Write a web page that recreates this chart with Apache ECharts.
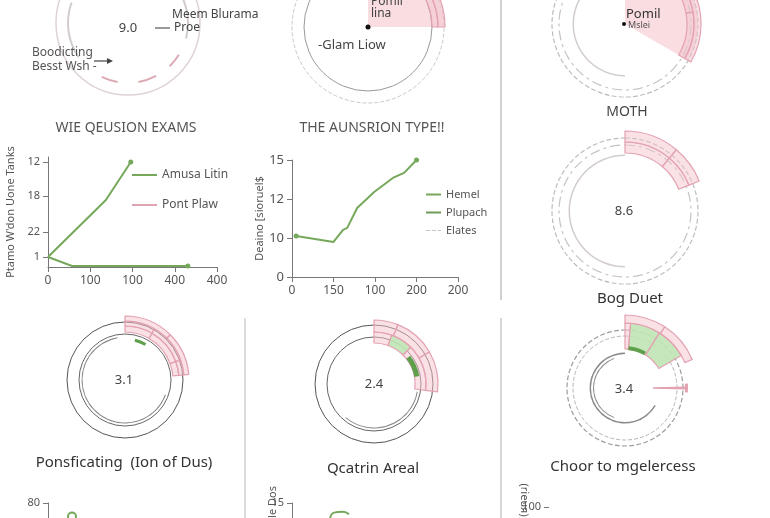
<!DOCTYPE html>
<html><head><meta charset="utf-8">
<script src="https://cdn.jsdelivr.net/npm/echarts@6/dist/echarts.min.js"></script>
<style>html,body{margin:0;padding:0;background:#fff}#c{width:770px;height:518px}</style>
</head><body><div id="c"></div><script>
// ---------- data: line chart A ----------
const xLabelsA = ['0','100','100','400','400'];
const yTickValsA = [10,35,71,105];
const yTickTextA = ['1','22','18','12'];
const amusaLitin = [[0,10],[1.37,67],[1.96,105]];
const pontPlaw = [[0,10],[0.57,1],[3.31,1]];
// ---------- data: line chart B ----------
const xLabelsB = ['0','150','100','200','200'];
const yLabelsB = ['0','10','12','15'];
const hemel = [[0.1,1.05],[1.0,0.9],[1.23,1.21],[1.33,1.26],[1.57,1.77],[1.98,2.18],[2.43,2.54],[2.7,2.67],[3.0,3.0]];
// ---------- data: partial bottom charts ----------
const bottomA = [[0.8,62]];
const bottomB = [[1.25,10.5],[1.4,12.6],[1.7,12.8],[1.9,12.2]];
// ---------- data: ring segments (degrees clockwise from top) ----------
const ringAInner = [50,55,17,14,16,18,20,16,29,55];      const ringAInnerK = 'tgtptptptg';
const sectorB = [90];                                     const sectorBK = 'f';
const bandBIn = [30,30,30];                               const bandBOut = [45,45];
const arcC = [180,150];                                   const arcCK = 'tg';
const sectorC = [120];
const bandCIn = [40,40,40];                               const bandCOut = [60,60];
const arcD = [180,180];
const bandDIn = [40,28];                                  const bandDOut = [40,28];
const arcE = [110,240];                                   const arcEK = 'tG';
const bandEIn = [30,40,15];  const bandEMid = [30,40,15]; const bandEOut = [45,40];
const greenE = [14,16];                                   const greenEK = 'tD';
const arcF = [100,120];                                   const arcFK = 'tG';
const bandFIn = [20,25,52];                               const bandFInK = 'cec';
const bandFOut = [22,38,37];
const greenF = [52,28];                                   const greenFK = 'tD';
const arcG1 = [120,240];  const arcG2 = [200,140];
const bandGIn = [5,27,28];                                const bandGInK = 'cee';
const bandGOut = [33,34];
const greenG = [5,25];                                    const greenGK = 'tD';
const needleG = [88.5,3];                                 const needleGK = 'tn';
const tickG = [86,8];                                     const tickGK = 'tn';

const STY = {
  t:{color:'rgba(0,0,0,0)',borderWidth:0},
  g:{color:'#d2cccd',borderWidth:0},
  G:{color:'#8a8a8a',borderWidth:0},
  p:{color:'#dcaab4',borderWidth:0},
  f:{color:'rgba(247,212,218,0.8)',borderWidth:0},
  c:{color:'rgba(243,196,206,0.5)',borderColor:'#e3a1b1',borderWidth:1.2},
  e:{color:'rgba(192,228,180,0.9)',borderColor:'#e3a1b1',borderWidth:1.2},
  D:{color:'#5f9f4b',borderWidth:0},
  n:{color:'#e3a1b1',borderWidth:0}
};
const series = [];
function ring(center, r0, r1, segs, kinds){
  const data = segs.map((v,i)=>({value:v, itemStyle:STY[kinds[i]]}));
  const used = segs.reduce((a,b)=>a+b,0);
  if (used < 360) data.push({value:360-used, itemStyle:STY.t});
  series.push({type:'pie', center, radius:[r0,r1], startAngle:90, clockwise:true, silent:true,
    animation:false, label:{show:false}, labelLine:{show:false}, emphasis:{disabled:true},
    avoidLabelOverlap:false, minAngle:0, padAngle:0, data});
}
function circle(center, r, color, type, width){
  series.push({type:'pie', center, radius:[0,r], startAngle:90, silent:true, animation:false,
    label:{show:false}, labelLine:{show:false}, emphasis:{disabled:true},
    data:[{value:1, itemStyle:{color:'rgba(0,0,0,0)', borderColor:color, borderWidth:width||1, borderType:type||'solid'}}]});
}
const K = (n,ch)=>ch.repeat(n);

// Panel A
circle([128,23],72,'#ded3d5','solid',1.5);
ring([128,23],59,61,ringAInner,ringAInnerK);
// Panel B
ring([368,27],0,76,sectorB,sectorBK);
circle([368,27],76,'#c8c8c8','dashed',1);
circle([368,27],64,'#9a9a9a','solid',1);
ring([368,27],64,70,bandBIn,K(3,'c'));
ring([368,27],70,77,bandBOut,K(2,'c'));
// Panel C
ring([625,24],0,73,sectorC,'f');
circle([625,24],73,'#bdbdbd','dashed',1.2);
circle([625,24],66,'#c4c4c4',[10,4,3,4],1.2);
ring([625,24],51,52.5,arcC,arcCK);
ring([625,24],62,69,bandCIn,K(3,'c'));
ring([625,24],69,76,bandCOut,K(2,'c'));
// Panel D
circle([625,211],73,'#bdbdbd','dashed',1.2);
circle([625,211],66,'#c4c4c4',[10,4,3,4],1.2);
ring([625,211],55,56.5,arcD,'tg');
ring([625,211],58,69,bandDIn,K(2,'c'));
ring([625,211],69,80,bandDOut,K(2,'c'));
// Panel E
circle([125,380],58,'#555','solid',1);
circle([125,380],46,'#666','solid',1);
ring([125,380],42.5,43.5,arcE,arcEK);
ring([125,380],48,54,bandEIn,K(3,'c'));
ring([125,380],54,59,bandEMid,K(3,'c'));
ring([125,380],59,64,bandEOut,K(2,'c'));
ring([125,380],39.5,42.5,greenE,greenEK);
// Panel F
circle([374,384],59,'#555','solid',1);
circle([374,384],47,'#666','solid',1);
ring([374,384],43.5,44.5,arcF,arcFK);
ring([374,384],41,52,bandFIn,bandFInK);
ring([374,384],52,64,bandFOut,K(3,'c'));
ring([374,384],41,46,greenF,greenFK);
// Panel G
circle([625,388],58,'#9c9c9c','dashed',1.2);
circle([625,388],52,'#b5b5b5','dashed',1);
ring([625,388],34,35.5,arcG1,'tG');
ring([625,388],31,32,arcG2,'tG');
ring([625,388],39,65,bandGIn,bandGInK);
ring([625,388],65,73,bandGOut,K(2,'c'));
ring([625,388],38,42,greenG,greenGK);
ring([625,388],28,62,needleG,needleGK);
ring([625,388],60,63,tickG,tickGK);

const GREEN = '#76a85c', PINK = '#e0a3b0', TXT = '#444', FONT = 'Noto Sans';
const axisCommon = {axisLine:{show:true,lineStyle:{color:'#777'}}, axisTick:{show:true,lineStyle:{color:'#777'}},
  splitLine:{show:false}, axisLabel:{color:'#555',fontFamily:FONT,fontSize:12}};

const grids = [
  {left:48, top:157, width:169, height:110, outerBoundsMode:'none', containLabel:false},
  {left:292, top:160, width:166, height:117, outerBoundsMode:'none', containLabel:false},
  {left:48, top:503, width:120, height:60, outerBoundsMode:'none', containLabel:false},
  {left:292, top:503, width:120, height:60, outerBoundsMode:'none', containLabel:false},
  {left:549, top:507, width:120, height:60, outerBoundsMode:'none', containLabel:false}
];
const xAxes = [
  Object.assign({}, axisCommon, {type:'value', gridIndex:0, min:0, max:4, interval:1,
    axisLabel:Object.assign({}, axisCommon.axisLabel, {formatter:(v)=>xLabelsA[v] ?? ''})}),
  Object.assign({}, axisCommon, {type:'value', gridIndex:1, min:0, max:4, interval:1,
    axisLabel:Object.assign({}, axisCommon.axisLabel, {formatter:(v)=>xLabelsB[v] ?? ''})}),
  {type:'value', gridIndex:2, min:0, max:4, show:false},
  {type:'value', gridIndex:3, min:0, max:4, show:false},
  {type:'value', gridIndex:4, min:0, max:4, show:false}
];
const yAxes = [
  Object.assign({}, axisCommon, {type:'value', gridIndex:0, min:0, max:110,
    name:"Ptamo W'don Uone Tanks", nameLocation:'middle', nameRotate:90, nameGap:32,
    nameTextStyle:{color:'#555',fontFamily:FONT,fontSize:11},
    axisTick:{show:true, customValues:yTickValsA, lineStyle:{color:'#777'}},
    axisLabel:Object.assign({}, axisCommon.axisLabel, {fontSize:11, customValues:yTickValsA,
      formatter:(v)=>yTickTextA[yTickValsA.indexOf(v)] ?? ''})}),
  Object.assign({}, axisCommon, {type:'value', gridIndex:1, min:0, max:3, interval:1,
    name:'Deaino [sioruel$', nameLocation:'middle', nameRotate:90, nameGap:27,
    nameTextStyle:{color:'#555',fontFamily:FONT,fontSize:11},
    axisLabel:Object.assign({}, axisCommon.axisLabel, {fontSize:13, formatter:(v)=>yLabelsB[v] ?? ''})}),
  Object.assign({}, axisCommon, {type:'value', gridIndex:2, min:0, max:80, interval:80,
    axisLabel:Object.assign({}, axisCommon.axisLabel, {fontSize:11})}),
  Object.assign({}, axisCommon, {type:'value', gridIndex:3, min:0, max:15, interval:15,
    axisLabel:Object.assign({}, axisCommon.axisLabel, {fontSize:11})}),
  Object.assign({}, axisCommon, {type:'value', gridIndex:4, min:0, max:100, interval:100,
    axisLine:{show:false}, axisTick:{show:true,lineStyle:{color:'#777'}},
    axisLabel:Object.assign({}, axisCommon.axisLabel, {fontSize:11})})
];

function lineData(arr, lastDot, firstDot){
  return arr.map((p,i)=>{
    const dot = (lastDot && i===arr.length-1) || (firstDot && i===0);
    return dot ? {value:p, symbol:'circle', symbolSize:5} : {value:p, symbol:'none'};
  });
}
series.push(
  {type:'line', name:'Amusa Litin', xAxisIndex:0, yAxisIndex:0, data:lineData(amusaLitin,true),
   showSymbol:true, symbol:'none', lineStyle:{color:GREEN,width:2}, itemStyle:{color:GREEN}, animation:false, silent:true},
  {type:'line', name:'Pont Plaw', xAxisIndex:0, yAxisIndex:0, data:lineData(pontPlaw,true),
   showSymbol:true, symbol:'none', lineStyle:{color:GREEN,width:2}, itemStyle:{color:GREEN}, animation:false, silent:true},
  {type:'line', name:'Hemel', xAxisIndex:1, yAxisIndex:1, data:lineData(hemel,true,true),
   showSymbol:true, symbol:'none', lineStyle:{color:GREEN,width:2}, itemStyle:{color:GREEN}, animation:false, silent:true},
  {type:'line', name:'Plupach', xAxisIndex:1, yAxisIndex:1, data:[], symbol:'none',
   lineStyle:{color:'#6f9a58',width:2}, itemStyle:{color:'#6f9a58'}, animation:false},
  {type:'line', name:'Elates', xAxisIndex:1, yAxisIndex:1, data:[], symbol:'none',
   lineStyle:{color:'#bbb',width:1.5,type:'dashed'}, itemStyle:{color:'#c4c4c4'}, animation:false},
  {type:'line', xAxisIndex:2, yAxisIndex:2, data:bottomA, symbol:'emptyCircle', symbolSize:8,
   lineStyle:{color:GREEN}, itemStyle:{color:GREEN,borderWidth:2}, animation:false, silent:true},
  {type:'line', xAxisIndex:3, yAxisIndex:3, data:bottomB, symbol:'none', smooth:true,
   lineStyle:{color:GREEN,width:2}, animation:false, silent:true}
);

function T(text,x,y,size,align,color,weight){
  return {type:'text', x, y, z:100, silent:true, style:{text, fill:color||TXT, font:(weight||'normal')+' '+size+'px "Noto Sans"',
    textAlign:align||'left', textVerticalAlign:'middle'}};
}
function L(x1,y1,x2,y2,color,w){
  return {type:'line', z:100, silent:true, shape:{x1,y1,x2,y2}, style:{stroke:color||'#555', lineWidth:w||1}};
}
function RT(text,x,y){
  return {type:'text', x, y, z:100, rotation:Math.PI/2, silent:true,
   style:{text, fill:'#555', font:'11px "Noto Sans"', textAlign:'center', textVerticalAlign:'middle'}};
}
const DASH = 'path://M0,0h5v1h-5zM7,0h5v1h-5zM14,0h4v1h-4z';
const graphic = [
  L(501,0,501,300,'#c2c2c2',1.5), L(245,318,245,518,'#d0d0d0',1.5), L(501,318,501,518,'#c8c8c8',1.5),
  // panel A
  T('9.0',128,28,13,'center'), T('Meem Blurama',172,15,12,'left'), T('Proe',174,28,12,'left'),
  L(155,28,170,28,'#555',1.2),
  T('Boodicting',32,53,12,'left','#555'), T('Besst Wsh -',32,67,12,'left','#555'),
  L(94,61,111,61,'#444',1.2),
  {type:'polygon', z:100, silent:true, shape:{points:[[113,61],[107,58],[107,64]]}, style:{fill:'#444'}},
  T('WIE QEUSION EXAMS',126,128,14,'center','#555'),
  // panel B
  {type:'circle', z:100, silent:true, shape:{cx:368,cy:27,r:2.5}, style:{fill:'#111'}},
  T('Pomil',371,2,12,'left'), T('lina',371,14,12,'left'),
  T('-Glam Liow',318,45,13,'left'),
  T('THE AUNSRION TYPE!!',372,128,14,'center','#555'),
  // panel C
  {type:'circle', z:100, silent:true, shape:{cx:624,cy:24,r:2}, style:{fill:'#111'}},
  T('Pomil',626,14,13,'left','#333'), T('Mslei',628,25,9,'left','#555'),
  T('MOTH',627,112,14,'center','#444'),
  // panel D
  T('8.6',624,211,13,'center'), T('Bog Duet',630,299,15,'center','#333'),
  // panel E
  T('3.1',124,380,13,'center'), T('Ponsficating  (Ion of Dus)',124,463,15,'center','#333'),
  // panel F
  T('2.4',374,384,13,'center'), T('Qcatrin Areal',373,469,15,'center','#333'),
  // panel G
  T('3.4',624,389,13,'center'), T('Choor to mgelercess',623,467,15,'center','#333'),
  RT('le Dos',273,502), RT('(ʁnəᴉɹ)',524,500)
];

const chart = echarts.init(document.getElementById('c'), null, {renderer:'canvas'});
chart.setOption({
  backgroundColor:'#fff', animation:false,
  textStyle:{fontFamily:FONT},
  grid:grids, xAxis:xAxes, yAxis:yAxes,
  legend:[
    {orient:'vertical', left:127, top:164, itemWidth:25, itemHeight:2, icon:'rect', itemGap:18,
     textStyle:{color:'#555',fontSize:12,fontFamily:FONT}, selectedMode:false,
     data:['Amusa Litin', {name:'Pont Plaw', itemStyle:{color:PINK}}]},
    {orient:'vertical', left:421, top:184, itemWidth:15, itemHeight:2, itemGap:7,
     textStyle:{color:'#555',fontSize:11,fontFamily:FONT}, selectedMode:false,
     data:[{name:'Hemel',icon:'rect'},{name:'Plupach',icon:'rect'},{name:'Elates',icon:DASH}]}
  ],
  series, graphic
});
</script></body></html>
